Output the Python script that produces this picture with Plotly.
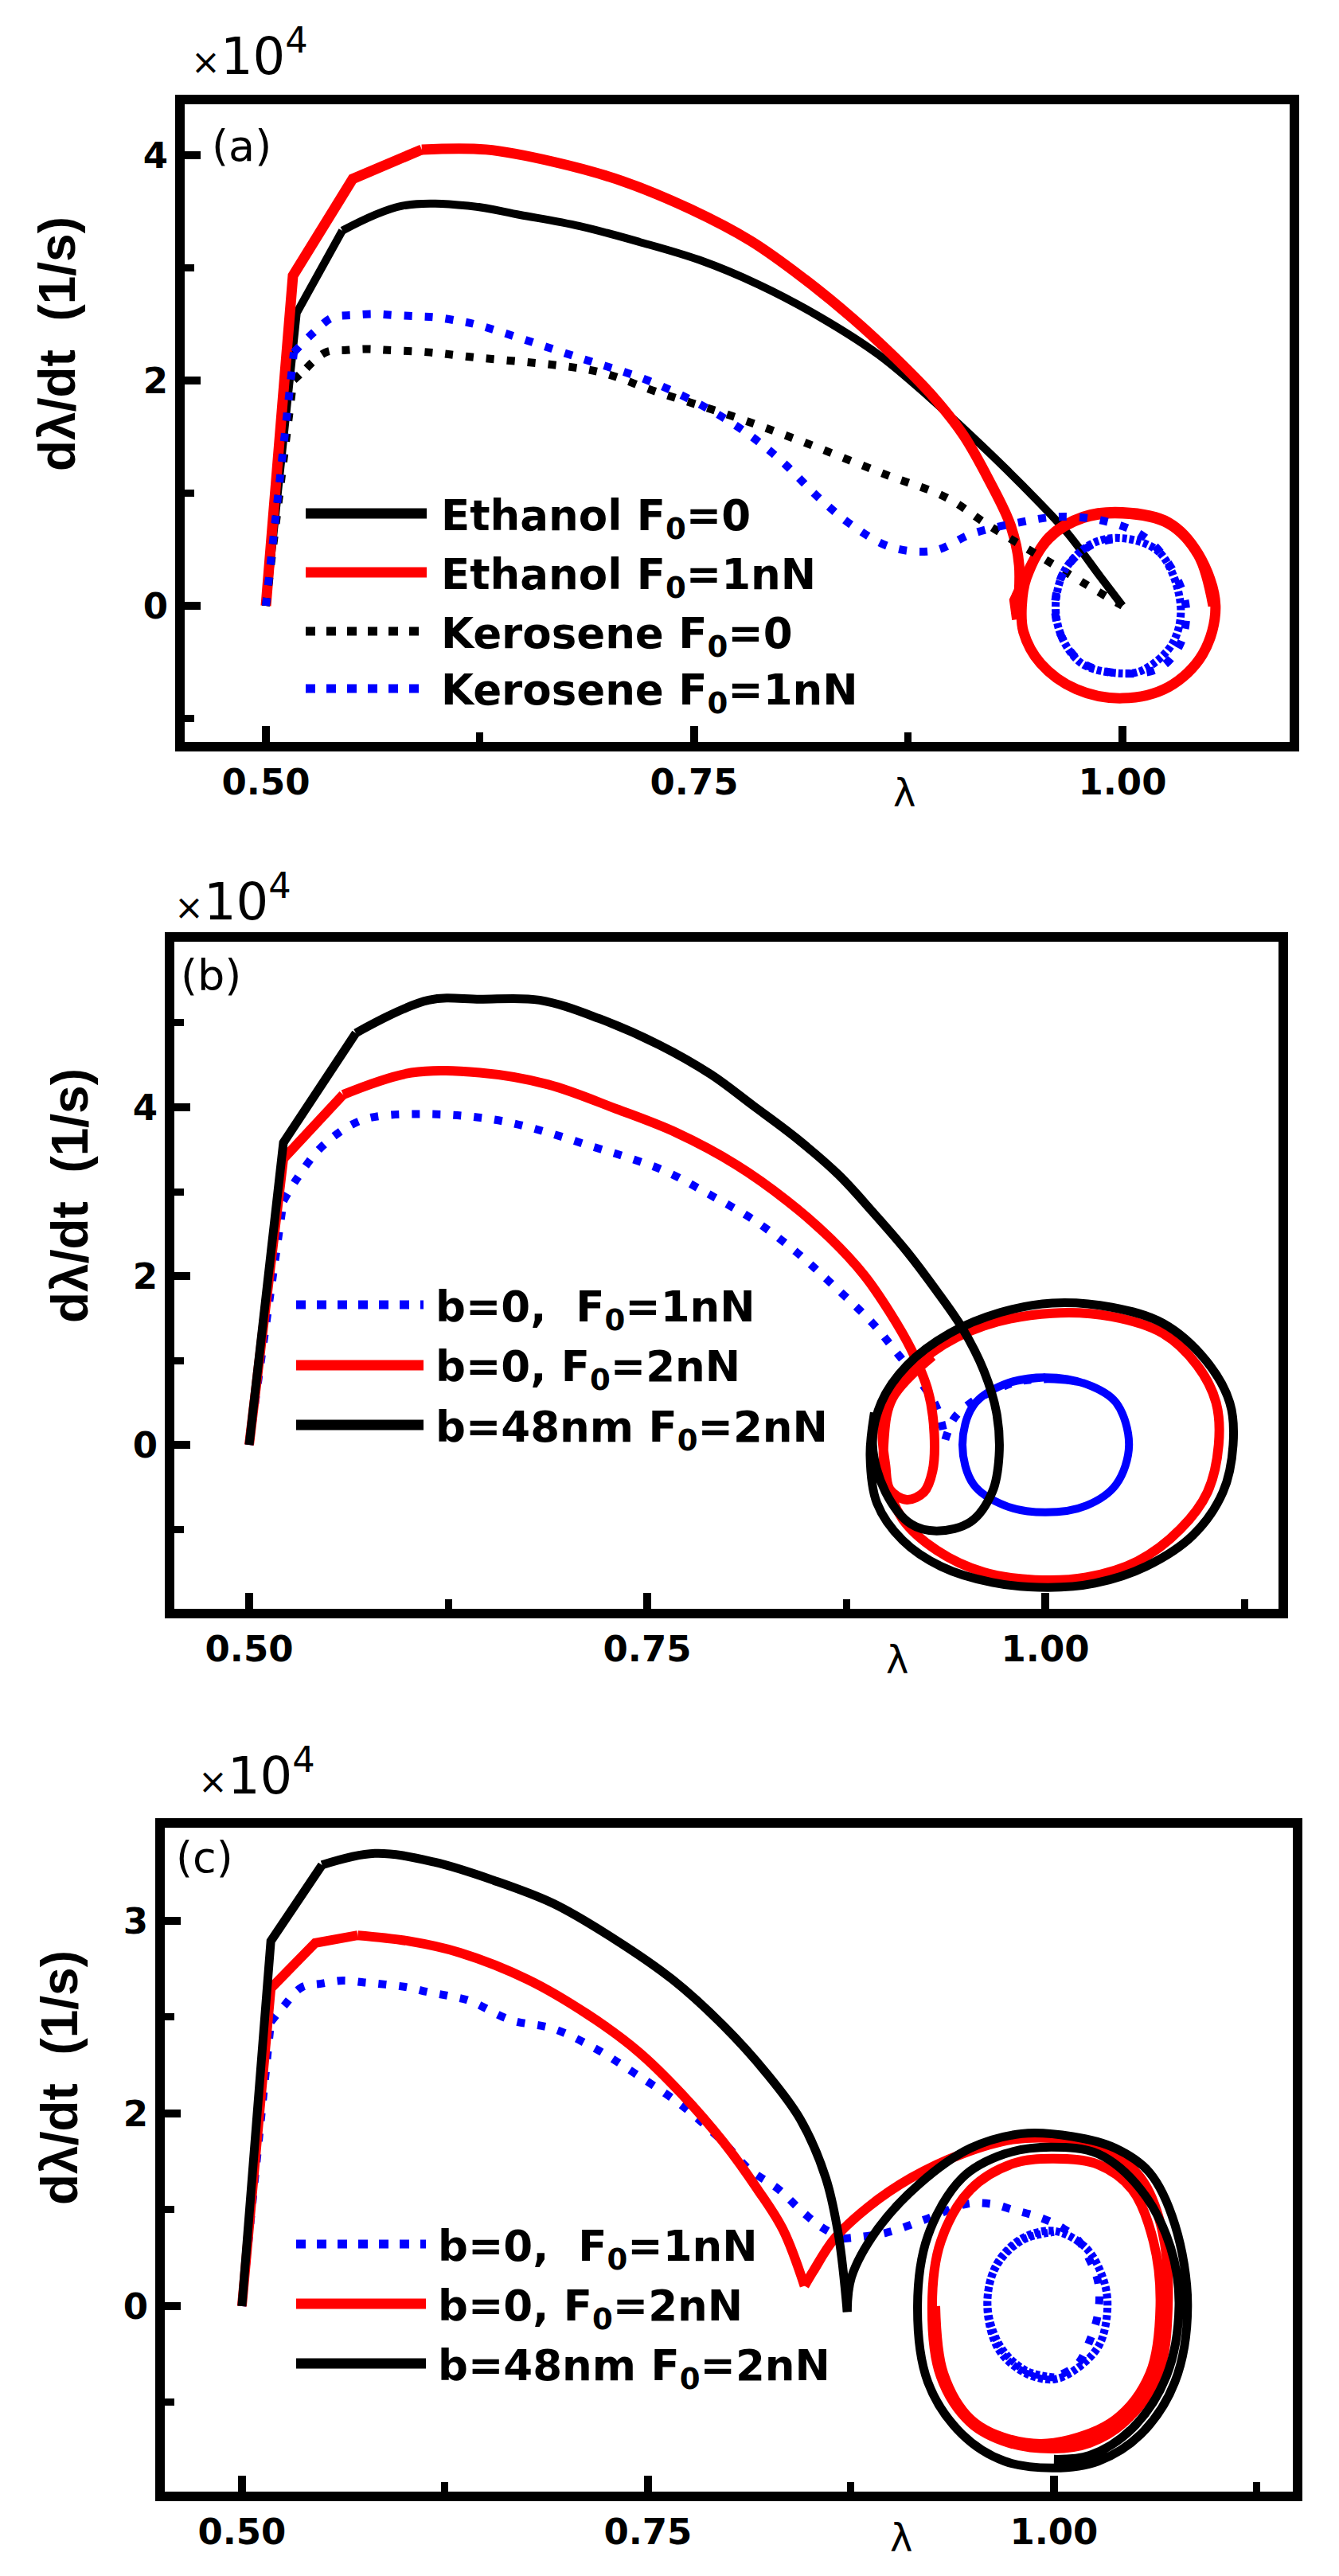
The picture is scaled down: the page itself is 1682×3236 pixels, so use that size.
import plotly.graph_objects as go

W, H = 1682, 3236

# ---------------- Panel (a) data ----------------
a_eth0_x = [0.500, 0.518, 0.5446, 0.5795, 0.619, 0.6484, 0.6833, 0.7181, 0.753, 0.7878, 0.8227, 0.8576, 0.8874, 0.9173, 0.9422, 0.9671, 0.987, 1.000]
a_eth0_y = [0.00, 2.60, 3.33, 3.55, 3.55, 3.47, 3.37, 3.23, 3.07, 2.85, 2.57, 2.23, 1.85, 1.43, 1.06, 0.66, 0.26, 0.00]

a_eth1_x = [0.500, 0.5158, 0.5507, 0.591, 0.6285, 0.6683, 0.7082, 0.748, 0.7829, 0.8127, 0.8426, 0.8675, 0.8899, 0.9074, 0.9223, 0.9348, 0.9397,
            0.9385, 0.9370, 0.9420, 0.9572, 0.9771, 1.000, 1.0269, 1.0443, 1.0543, 1.0468, 1.0269, 1.000, 0.9731, 0.9522, 0.9422, 0.9412,
            0.9440, 0.9572, 0.9771, 1.000, 1.0269, 1.0443, 1.0530]
a_eth1_y = [0.00, 2.93, 3.79, 4.05, 4.05, 3.94, 3.77, 3.52, 3.24, 2.92, 2.55, 2.20, 1.85, 1.51, 1.11, 0.71, 0.36,
            -0.12, 0.05, 0.21, 0.61, 0.79, 0.83, 0.74, 0.46, 0.00, -0.43, -0.72, -0.82, -0.74, -0.51, -0.23, 0.00,
            0.25, 0.60, 0.78, 0.82, 0.73, 0.45, 0.00]

a_ker0_x = [0.500, 0.516, 0.5237, 0.5349, 0.547, 0.5595, 0.571, 0.5957, 0.619, 0.6932, 0.728, 0.773, 0.8127, 0.8626, 0.8974, 0.9223, 0.9572, 0.982, 1.000]
a_ker0_y = [0.00, 2.00, 2.11, 2.25, 2.27, 2.28, 2.27, 2.25, 2.21, 2.08, 1.90, 1.68, 1.46, 1.16, 0.96, 0.71, 0.39, 0.16, 0.00]

a_ker1_x = [0.500, 0.5163, 0.5274, 0.539, 0.5507, 0.563, 0.575, 0.588, 0.5995, 0.612, 0.622, 0.6833, 0.7231, 0.758, 0.7829, 0.8028, 0.8227,
            0.8426, 0.865, 0.8899, 0.9123, 0.9397, 0.9621, 0.987, 1.012, 1.028, 1.037, 1.034, 1.022, 1.000, 0.977, 0.9647, 0.9606,
            0.9661, 0.982, 1.000, 1.0219, 1.0340, 1.0290, 1.012, 1.000, 0.977, 0.9650, 0.9610, 0.9665, 0.982, 1.000]
a_ker1_y = [0.00, 2.25, 2.42, 2.56, 2.58, 2.59, 2.58, 2.57, 2.56, 2.53, 2.50, 2.20, 2.00, 1.75, 1.51, 1.26, 0.96,
            0.71, 0.52, 0.49, 0.64, 0.74, 0.79, 0.76, 0.62, 0.35, 0.00, -0.33, -0.55, -0.60, -0.51, -0.28, 0.00,
            0.31, 0.54, 0.60, 0.47, 0.00, -0.34, -0.57, -0.60, -0.52, -0.29, 0.00, 0.32, 0.55, 0.60]

# ---------------- Panel (b) data ----------------
b_b0f1_x = [0.500, 0.5215, 0.5295, 0.5429, 0.5563, 0.5697, 0.5832, 0.6073, 0.6341, 0.6609, 0.6878, 0.7146, 0.7387, 0.7629, 0.7897, 0.8165,
            0.8433, 0.8675, 0.8916, 0.9077, 0.9238, 0.9319, 0.9372, 0.9426, 0.9533, 0.9667, 0.9828, 1.0016, 1.0258, 1.0445, 1.0526, 1.0445,
            1.0258, 1.000, 0.9748, 0.955, 0.948, 0.955, 0.9748, 1.000, 1.0258, 1.0445, 1.0526, 1.0445, 1.0258, 1.000, 0.9748, 0.955,
            0.948, 0.955, 0.9748, 1.000]
b_b0f1_y = [0.00, 2.89, 3.14, 3.48, 3.70, 3.84, 3.90, 3.92, 3.90, 3.83, 3.70, 3.54, 3.40, 3.23, 2.96, 2.67,
            2.29, 1.88, 1.44, 1.07, 0.69, 0.44, 0.06, 0.31, 0.50, 0.63, 0.75, 0.78, 0.72, 0.50, 0.00, -0.47,
            -0.72, -0.80, -0.72, -0.47, 0.00, 0.47, 0.72, 0.80, 0.72, 0.50, 0.00, -0.47, -0.72, -0.80, -0.72, -0.47,
            0.00, 0.47, 0.72, 0.80]

b_b0f2_x = [0.500, 0.5215, 0.559, 0.6019, 0.6449, 0.6878, 0.7307, 0.7682, 0.8058, 0.838, 0.8648, 0.8863, 0.9024, 0.9158, 0.9265, 0.9303,
            0.9292, 0.9238, 0.9131, 0.9024, 0.8997, 0.898, 0.9077, 0.9292, 0.9614, 1.0043, 1.0418, 1.074, 1.0955, 1.1073, 1.1089, 1.1019,
            1.0848, 1.0579, 1.0258, 0.9936, 0.9614, 0.9319, 0.9104, 0.8997, 0.8987, 0.9040, 0.9292]
b_b0f2_y = [0.00, 3.39, 4.15, 4.41, 4.41, 4.27, 3.98, 3.70, 3.32, 2.89, 2.45, 2.01, 1.57, 1.13, 0.63, 0.13,
            -0.31, -0.56, -0.65, -0.53, -0.25, 0.25, 0.69, 1.10, 1.41, 1.56, 1.52, 1.32, 0.94, 0.50, 0.00, -0.56,
            -1.00, -1.38, -1.57, -1.60, -1.51, -1.25, -0.88, -0.38, 0.06, 0.55, 1.05]

b_b48f2_x = [0.500, 0.5215, 0.567, 0.6127, 0.645, 0.6824, 0.72, 0.7575, 0.79, 0.8165, 0.8433, 0.8702, 0.8916, 0.9131, 0.9319, 0.948,
             0.9614, 0.9694, 0.971, 0.9667, 0.9533, 0.9319, 0.9158, 0.8997, 0.8916, 0.897, 0.9131, 0.9399, 0.9721, 1.0043, 1.0418, 1.074,
             1.1009, 1.1159, 1.118, 1.1116, 1.0928, 1.0633, 1.0311, 1.0016, 0.9667, 0.9345, 0.9104, 0.8943, 0.89, 0.8927]
b_b48f2_y = [0.00, 3.58, 4.88, 5.27, 5.28, 5.27, 5.05, 4.74, 4.39, 4.02, 3.64, 3.20, 2.76, 2.29, 1.82, 1.38,
             0.88, 0.38, -0.13, -0.56, -0.91, -1.02, -0.94, -0.56, 0.00, 0.50, 0.94, 1.32, 1.57, 1.68, 1.63, 1.44,
             1.00, 0.50, 0.00, -0.56, -1.07, -1.44, -1.64, -1.69, -1.63, -1.44, -1.13, -0.69, -0.13, 0.38]

# ---------------- Panel (c) data (y in axis units; the top tick is printed "3") ----------------
c_b0f1_x = [0.500, 0.5178, 0.526, 0.5368, 0.5495, 0.5623, 0.5755, 0.5882, 0.602, 0.6147, 0.6275, 0.6402, 0.6656, 0.6918, 0.718, 0.7416,
            0.7704, 0.7966, 0.8124, 0.8307, 0.8438, 0.8569, 0.87, 0.8962, 0.9224, 0.946, 0.9617, 0.9748, 0.9879, 1.001, 1.0141, 1.022,
            1.0273, 1.0273, 1.022, 1.0141, 1.000, 0.9827, 0.967, 0.9591, 0.9643, 0.9801, 1.000, 1.0194, 1.030, 1.033, 1.028, 1.014,
            1.000, 0.983, 0.966, 0.959, 0.964, 0.980, 1.000]
c_b0f1_y = [0.00, 2.95, 3.12, 3.31, 3.35, 3.38, 3.36, 3.34, 3.31, 3.26, 3.22, 3.17, 2.97, 2.88, 2.67, 2.42,
            2.09, 1.70, 1.42, 1.21, 1.00, 0.82, 0.70, 0.76, 0.91, 1.06, 1.06, 1.00, 0.94, 0.85, 0.70, 0.48,
            0.24, -0.06, -0.36, -0.61, -0.74, -0.67, -0.42, 0.00, 0.42, 0.70, 0.78, 0.61, 0.30, 0.00, -0.40, -0.65,
            -0.76, -0.70, -0.45, 0.00, 0.40, 0.68, 0.77]

c_b0f2_x = [0.500, 0.5178, 0.5451, 0.5713, 0.6027, 0.6342, 0.6761, 0.7128, 0.7442, 0.7704, 0.7966, 0.8176, 0.8333, 0.8464, 0.8517, 0.8648,
            0.8857, 0.9119, 0.9434, 0.9748, 1.0063, 1.0325, 1.0535, 1.0666, 1.0702, 1.0639, 1.043, 1.022, 1.000, 0.9722, 0.9486, 0.9303,
            0.925, 0.9303, 0.9486, 0.9748, 1.000, 1.0273, 1.0482, 1.0613, 1.0655, 1.0592, 1.0377, 1.000, 0.9722, 0.9490, 0.9320, 0.9270]
c_b0f2_y = [0.00, 3.30, 3.77, 3.85, 3.79, 3.67, 3.39, 3.03, 2.64, 2.21, 1.70, 1.21, 0.79, 0.21, 0.36, 0.70,
            1.03, 1.33, 1.58, 1.73, 1.73, 1.61, 1.33, 0.79, 0.00, -0.73, -1.21, -1.42, -1.48, -1.42, -1.21, -0.73,
            0.00, 0.67, 1.21, 1.48, 1.53, 1.47, 1.21, 0.67, 0.00, -0.70, -1.18, -1.42, -1.38, -1.18, -0.70, 0.00]

c_b48f2_x = [0.500, 0.5178, 0.5493, 0.5818, 0.6184, 0.6551, 0.6918, 0.7285, 0.7652, 0.7966, 0.8229, 0.8438, 0.8595, 0.8674, 0.8727, 0.8753,
             0.891, 0.9172, 0.9486, 0.9801, 1.0115, 1.0377, 1.0587, 1.0744, 1.0823, 1.0744, 1.0535, 1.0273, 1.000, 0.9696, 0.9434, 0.9224,
             0.916, 0.9224, 0.9434, 0.9696, 0.9984, 1.0273, 1.0535, 1.0718, 1.077, 1.0692, 1.0482, 1.022, 1.000]
c_b48f2_y = [0.00, 3.79, 4.58, 4.70, 4.61, 4.42, 4.18, 3.82, 3.39, 2.91, 2.42, 1.94, 1.33, 0.73, -0.06, 0.30,
             0.79, 1.27, 1.64, 1.79, 1.76, 1.64, 1.39, 0.85, 0.00, -0.79, -1.33, -1.61, -1.68, -1.61, -1.33, -0.79,
             0.00, 0.73, 1.33, 1.58, 1.65, 1.58, 1.21, 0.61, 0.00, -0.73, -1.27, -1.55, -1.59]

# ---------------- labels / ticks ----------------
x_tickvals = [0.50, 0.75, 1.00]
x_ticktext = ["0.50", "0.75", "1.00"]
a_y_tickvals = [0, 2, 4]
a_y_ticktext = ["0", "2", "4"]
b_y_tickvals = [-2, 0, 2, 4, 6]
b_y_ticktext = ["-2", "0", "2", "4", "6"]
c_y_tickvals = [-2, 0, 2, 4]
c_y_ticktext = ["-2", "0", "2", "3"]

a_legend = ["Ethanol F<sub>0</sub>=0", "Ethanol F<sub>0</sub>=1nN", "Kerosene F<sub>0</sub>=0", "Kerosene F<sub>0</sub>=1nN"]
b_legend = ["b=0,  F<sub>0</sub>=1nN", "b=0, F<sub>0</sub>=2nN", "b=48nm F<sub>0</sub>=2nN"]
c_legend = ["b=0,  F<sub>0</sub>=1nN", "b=0, F<sub>0</sub>=2nN", "b=48nm F<sub>0</sub>=2nN"]
panel_tags = ["(a)", "(b)", "(c)"]
y_title = "dλ/dt  (1/s)"
x_title = "λ"

for xs, ys in [(a_eth0_x, a_eth0_y), (a_eth1_x, a_eth1_y), (a_ker0_x, a_ker0_y), (a_ker1_x, a_ker1_y),
               (b_b0f1_x, b_b0f1_y), (b_b0f2_x, b_b0f2_y), (b_b48f2_x, b_b48f2_y),
               (c_b0f1_x, c_b0f1_y), (c_b0f2_x, c_b0f2_y), (c_b48f2_x, c_b48f2_y)]:
    assert len(xs) == len(ys), (len(xs), len(ys))

RED, BLUE, BLACK = "#FF0000", "#0000FF", "#000000"
DOT = "10px,16px"
DENSE = "6px,3px"
L, S = "linear", "spline"

def px(x):
    return x / W

def py(y):
    return 1 - y / H

fig = go.Figure()

def draw(xs, ys, segs, color, width, ax):
    """segs: (first index, last index or None, line shape, dash)"""
    for i0, i1, shape, dash in segs:
        i1 = len(xs) - 1 if i1 is None else i1
        fig.add_trace(go.Scatter(x=xs[i0:i1 + 1], y=ys[i0:i1 + 1], mode="lines",
                                 xaxis="x" + ax, yaxis="y" + ax,
                                 line=dict(color=color, width=width, dash=dash, shape=shape, smoothing=1.0),
                                 showlegend=False, hoverinfo="skip"))

# panel (a)
draw(a_eth0_x, a_eth0_y, [(0, 2, L, "solid"), (2, None, S, "solid")], BLACK, 10, "")
draw(a_eth1_x, a_eth1_y, [(0, 3, L, "solid"), (3, 17, S, "solid"), (17, 19, L, "solid"), (19, None, S, "solid")], RED, 13, "")
draw(a_ker0_x, a_ker0_y, [(0, 2, L, DOT), (2, None, S, DOT)], BLACK, 10, "")
draw(a_ker1_x, a_ker1_y, [(0, 1, L, DOT), (1, 35, S, DOT), (35, None, S, DENSE)], BLUE, 10, "")
# panel (b)
draw(b_b0f1_x, b_b0f1_y, [(0, 1, L, DOT), (1, 22, S, DOT), (22, 27, S, DOT), (27, None, S, "solid")], BLUE, 10, "2")
draw(b_b0f2_x, b_b0f2_y, [(0, 2, L, "solid"), (2, None, S, "solid")], RED, 12, "2")
draw(b_b48f2_x, b_b48f2_y, [(0, 2, L, "solid"), (2, None, S, "solid")], BLACK, 11, "2")
# panel (c)
draw(c_b0f1_x, c_b0f1_y, [(0, 1, L, DOT), (1, 22, S, DOT), (22, 36, S, DOT), (36, None, S, DENSE)], BLUE, 10, "3")
draw(c_b0f2_x, c_b0f2_y, [(0, 3, L, "solid"), (3, 13, S, "solid"), (13, None, S, "solid")], RED, 12, "3")
draw(c_b48f2_x, c_b48f2_y, [(0, 2, L, "solid"), (2, 14, S, "solid"), (14, None, S, "solid")], BLACK, 11, "3")

tickfont = dict(family="DejaVu Sans", size=45, color="black", weight="bold")

def xaxis(domain, rng, anchor):
    return dict(domain=domain, range=rng, anchor=anchor, showgrid=False, zeroline=False,
                showline=True, linewidth=12, linecolor="black", mirror=True,
                ticks="inside", ticklen=20, tickwidth=10, tickcolor="black",
                tickmode="array", tickvals=x_tickvals, ticktext=x_ticktext, tickfont=tickfont,
                minor=dict(ticks="inside", ticklen=12, tickwidth=9, tickcolor="black", dtick=0.125, tick0=0.5))

def yaxis(domain, rng, anchor, tv, tt):
    return dict(domain=domain, range=rng, anchor=anchor, showgrid=False, zeroline=False,
                showline=True, linewidth=12, linecolor="black", mirror=True,
                ticks="inside", ticklen=20, tickwidth=10, tickcolor="black",
                tickmode="array", tickvals=tv, ticktext=tt, tickfont=tickfont,
                minor=dict(ticks="inside", ticklen=12, tickwidth=9, tickcolor="black", dtick=1, tick0=0))

layout = dict(
    width=W, height=H, margin=dict(l=0, r=0, t=0, b=0),
    paper_bgcolor="white", plot_bgcolor="white", showlegend=False,
    xaxis=xaxis([232 / W, 1620 / W], [0.4526, 1.0976], "y"),
    yaxis=yaxis([1 - 932 / H, 1 - 131 / H], [-1.208, 4.452], "x", a_y_tickvals, a_y_ticktext),
    xaxis2=xaxis([219 / W, 1606 / W], [0.453, 1.1465], "y2"),
    yaxis2=yaxis([1 - 2021 / H, 1 - 1183 / H], [-1.943, 5.962], "x2", b_y_tickvals, b_y_ticktext),
    xaxis3=xaxis([207 / W, 1624 / W], [0.4525, 1.1471], "y3"),
    yaxis3=yaxis([1 - 3130 / H, 1 - 2296 / H], [-1.926, 4.967], "x3", c_y_tickvals, c_y_ticktext),
)
fig.update_layout(**layout)

annotations = []
shapes = []

def ann(text, x, y, size, bold=False, xanchor="center", yanchor="middle", angle=0, family="DejaVu Sans"):
    annotations.append(dict(text=text, x=px(x), y=py(y), xref="paper", yref="paper", showarrow=False,
                            xanchor=xanchor, yanchor=yanchor, textangle=angle,
                            font=dict(family=family, size=size, color="black",
                                      weight="bold" if bold else "normal")))

# y-axis titles
for cx, cy in [(72, 432), (88, 1502), (75, 2610)]:
    ann(y_title, cx, cy, 64, bold=True, angle=-90, family="Liberation Sans")
# x-axis titles
for cx, cy in [(1136, 996), (1127, 2085), (1132, 3188)]:
    ann(x_title, cx, cy, 48)
# multipliers
for lx, by in [(238, 110), (217, 1172), (247, 2270)]:
    ann('<span style="font-size:44px">×</span>10<sup>4</sup>', lx, by, 64, xanchor="left", yanchor="bottom")
# panel tags
for tag, (lx, cy) in zip(panel_tags, [(264, 183), (225, 1226), (219, 2333)]):
    ann(tag, lx, cy, 54, xanchor="left")

# legends
def legend(items, styles, rows, x0, x1, tx):
    for text, (color, dash, width), ry in zip(items, styles, rows):
        shapes.append(dict(type="line", xref="paper", yref="paper", x0=px(x0), x1=px(x1), y0=py(ry), y1=py(ry),
                           line=dict(color=color, width=width, dash=dash)))
        ann(text, tx, ry + 6, 53, bold=True, xanchor="left")

legend(a_legend, [(BLACK, "solid", 13), (RED, "solid", 13), (BLACK, "12px,14px", 11), (BLUE, "12px,14px", 11)],
       [645, 719, 793, 865], 384, 536, 552)
legend(b_legend, [(BLUE, "12px,14px", 11), (RED, "solid", 13), (BLACK, "solid", 13)],
       [1639, 1715, 1790], 372, 532, 545)
legend(c_legend, [(BLUE, "12px,14px", 11), (RED, "solid", 13), (BLACK, "solid", 13)],
       [2819, 2894, 2969], 372, 535, 548)

fig.update_layout(annotations=annotations, shapes=shapes)

fig.write_html("out.html", config={"displayModeBar": False},
               post_script="document.body.style.margin='0';document.body.style.overflow='hidden';")
